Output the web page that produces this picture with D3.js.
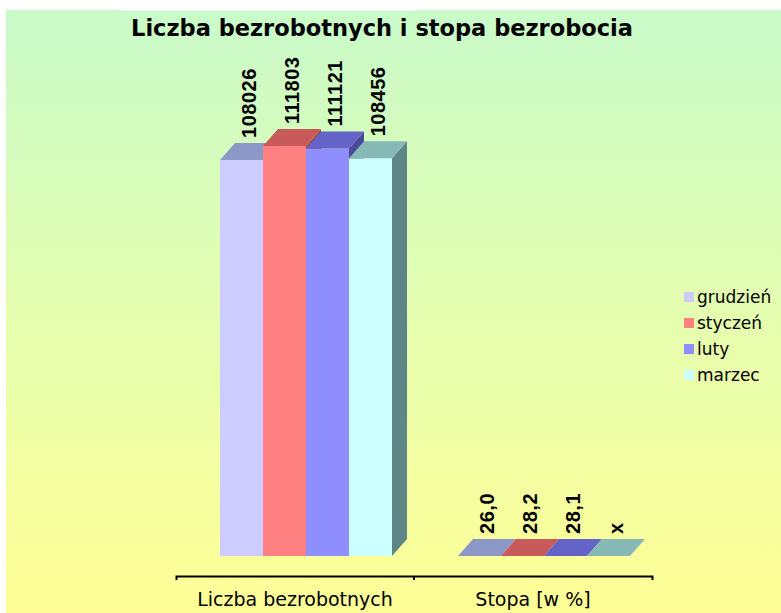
<!DOCTYPE html>
<html>
<head>
<meta charset="utf-8">
<script src="https://cdn.jsdelivr.net/npm/d3@7"></script>
<style>
  html, body { margin: 0; padding: 0; background: #fff; }
  svg { display: block; }
</style>
</head>
<body>
<div id="chart"></div>
<script>
// data
const categories = ["Liczba bezrobotnych", "Stopa [w %]"];
const months     = ["grudzień", "styczeń", "luty", "marzec"];
const unemployed = [108026, 111803, 111121, 108456];
const rate       = [26.0, 28.2, 28.1, null];   // marzec not given -> "x"

// colours per month: front, top, side
const frontColors = ["#ccccff", "#ff8080", "#8e8eff", "#ccffff"];
const topColors   = ["#8c98c8", "#c85a5a", "#6464c8", "#86b8b6"];
const sideColors  = ["#6c78a4", "#a04646", "#4a4a9c", "#5e8686"];

const W = 781, H = 613;
const DX = 15, DY = -17;   // 3D depth offset

const svg = d3.select("#chart").append("svg")
  .attr("width", W)
  .attr("height", H);

// background gradient (green -> yellow)
const grad = svg.append("defs").append("linearGradient")
  .attr("id", "bg")
  .attr("x1", 0).attr("y1", 0).attr("x2", 0).attr("y2", 1);
grad.append("stop").attr("offset", "0%").attr("stop-color", "#c9fbc9");
grad.append("stop").attr("offset", "100%").attr("stop-color", "#ffff96");

svg.append("rect")
  .attr("x", 6).attr("y", 10)
  .attr("width", W - 6).attr("height", H - 10)
  .attr("fill", "url(#bg)");
svg.append("rect")
  .attr("x", 120).attr("y", 0)
  .attr("width", 295).attr("height", 11)
  .attr("fill", "#fff");

// title
svg.append("text")
  .attr("x", 382)
  .attr("y", 36)
  .attr("text-anchor", "middle")
  .style("font-family", "'DejaVu Sans', sans-serif")
  .style("font-weight", "bold")
  .style("font-size", "22.5px")
  .attr("fill", "#000")
  .text("Liczba bezrobotnych i stopa bezrobocia");

// scales
const xCat = d3.scaleBand()
  .domain(categories)
  .range([176, 652]);

const xBar = d3.scaleBand()
  .domain(months)
  .range([44, 216]);

const y = d3.scaleLinear()
  .domain([0, 120000])
  .range([556, 116]);

// flat list of bars
const bars = [];
categories.forEach((cat, ci) => {
  months.forEach((m, mi) => {
    const raw = ci === 0 ? unemployed[mi] : rate[mi];
    const label = raw == null ? "x"
      : (ci === 0 ? String(raw) : raw.toFixed(1).replace(".", ","));
    bars.push({ cat, m, mi, value: raw == null ? 0 : raw, label });
  });
});

const g = svg.append("g");

bars.forEach(d => {
  const x0 = xCat(d.cat) + xBar(d.m);
  const x1 = x0 + xBar.bandwidth();
  const yb = y(0);
  const yt = y(d.value);
  const bar = g.append("g");

  // right side
  bar.append("path")
    .attr("d", `M${x1},${yb}L${x1 + DX},${yb + DY}L${x1 + DX},${yt + DY}L${x1},${yt}Z`)
    .attr("fill", sideColors[d.mi]);
  // front
  if (yb - yt > 0.5) {
    bar.append("rect")
      .attr("x", x0).attr("y", yt)
      .attr("width", x1 - x0).attr("height", yb - yt)
      .attr("fill", frontColors[d.mi]);
  }
  // top
  bar.append("path")
    .attr("d", `M${x0},${yt}L${x0 + DX},${yt + DY}L${x1 + DX},${yt + DY}L${x1},${yt}Z`)
    .attr("fill", topColors[d.mi]);

  // value label, rotated
  const cx = (x0 + x1) / 2 + DX / 2;
  const ly = yt + DY - 5;
  svg.append("text")
    .attr("transform", `translate(${cx},${ly}) rotate(-90)`)
    .attr("text-anchor", "start")
    .attr("dy", "0.36em")
    .style("font-family", "'Liberation Sans', Arial, sans-serif")
    .style("font-weight", "bold")
    .style("font-size", "20px")
    .style("letter-spacing", "0.5px")
    .attr("fill", "#000")
    .text(d.label);
});

// category axis
const axis = svg.append("g")
  .attr("transform", "translate(0,576)")
  .call(d3.axisBottom(xCat).tickSizeInner(0).tickSizeOuter(4).tickPadding(17));
axis.select("path.domain").attr("stroke", "#000").attr("stroke-width", 2);
axis.selectAll("text")
  .style("font-family", "'DejaVu Sans', sans-serif")
  .style("font-size", "19px")
  .attr("fill", "#000");
axis.selectAll(".sep")
  .data(categories.slice(1))
  .enter().append("line")
  .attr("class", "sep")
  .attr("x1", d => xCat(d)).attr("x2", d => xCat(d))
  .attr("y1", 0).attr("y2", 4)
  .attr("stroke", "#000").attr("stroke-width", 2);

// legend
const legend = svg.append("g").attr("transform", "translate(684,297)");
const item = legend.selectAll("g")
  .data(months)
  .enter().append("g")
  .attr("transform", (d, i) => `translate(0,${i * 26})`);
item.append("rect")
  .attr("x", 0).attr("y", -5)
  .attr("width", 10).attr("height", 10)
  .attr("fill", (d, i) => frontColors[i]);
item.append("text")
  .attr("x", 13)
  .attr("dy", "0.36em")
  .style("font-family", "'DejaVu Sans', sans-serif")
  .style("font-size", "17px")
  .attr("fill", "#000")
  .text(d => d);
</script>
</body>
</html>
